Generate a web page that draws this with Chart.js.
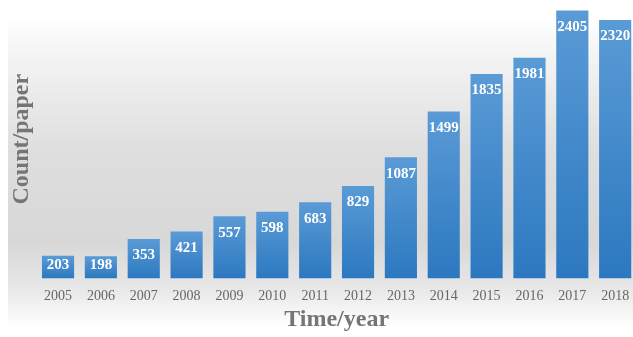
<!DOCTYPE html>
<html>
<head>
<meta charset="utf-8">
<script src="https://cdn.jsdelivr.net/npm/chart.js@4.4.0/dist/chart.umd.min.js"></script>
<style>
  html, body { margin: 0; padding: 0; background: #fff; overflow: hidden; }
  #wrap { width: 633px; height: 337px; overflow: hidden; }
</style>
</head>
<body>
<div id="wrap"><canvas id="chart" width="640" height="337"></canvas></div>
<script>
const years = ['2005', '2006', '2007', '2008', '2009', '2010', '2011',
  '2012', '2013', '2014', '2015', '2016', '2017', '2018'];
const papers = [203, 198, 353, 421, 557, 598, 683, 829, 1087, 1499, 1835, 1981, 2405, 2320];
const yMax = 2500;

const serif = '"Liberation Serif", "Times New Roman", serif';

// grey panel behind the plot, fading to white top and bottom
const panelBackground = {
  id: 'panelBackground',
  beforeDraw(chart) {
    const ctx = chart.ctx;
    ctx.save();
    ctx.fillStyle = '#ffffff';
    ctx.fillRect(0, 0, chart.width, chart.height);
    const g = ctx.createLinearGradient(0, 0, 0, chart.height);
    g.addColorStop(0, '#ffffff');
    g.addColorStop(0.05, '#ffffff');
    g.addColorStop(0.16, '#f4f4f4');
    g.addColorStop(0.45, '#dedede');
    g.addColorStop(0.72, '#d8d8d8');
    g.addColorStop(0.86, '#e8e8e8');
    g.addColorStop(0.97, '#ffffff');
    ctx.fillStyle = g;
    ctx.fillRect(8, 0, chart.width - 8, chart.height);
    ctx.restore();
  }
};

// white value labels inside the top of each bar
const barLabels = {
  id: 'barLabels',
  afterDatasetsDraw(chart) {
    const ctx = chart.ctx;
    const meta = chart.getDatasetMeta(0);
    ctx.save();
    ctx.fillStyle = '#ffffff';
    ctx.font = 'bold 15px ' + serif;
    ctx.textAlign = 'center';
    ctx.textBaseline = 'middle';
    meta.data.forEach((bar, i) => {
      const y = Math.min(bar.y + 16.5, bar.base - 13);
      ctx.fillText(String(papers[i]), bar.x, y);
    });
    ctx.restore();
  }
};

const barFill = context => {
  const chart = context.chart;
  const area = chart.chartArea;
  if (!area || context.dataIndex === undefined) return '#4a8fd0';
  const yScale = chart.scales.y;
  const top = yScale.getPixelForValue(papers[context.dataIndex]);
  const bottom = yScale.getPixelForValue(0);
  const g = chart.ctx.createLinearGradient(0, top, 0, bottom);
  g.addColorStop(0, '#5a9bd6');
  g.addColorStop(1, '#2c78c0');
  return g;
};

new Chart(document.getElementById('chart'), {
  type: 'bar',
  data: {
    labels: years,
    datasets: [{
      data: papers,
      backgroundColor: barFill,
      borderWidth: 0,
      categoryPercentage: 1,
      barPercentage: 0.75
    }]
  },
  options: {
    responsive: false,
    animation: false,
    layout: { padding: { left: 0, right: 3.4, top: 0, bottom: 0 } },
    plugins: {
      legend: { display: false },
      tooltip: { enabled: false }
    },
    scales: {
      x: {
        grid: { display: false, drawTicks: false },
        border: { display: false },
        ticks: {
          color: '#666666',
          font: { family: serif, size: 14 },
          padding: 10,
          maxRotation: 0,
          autoSkip: false
        },
        title: {
          display: true,
          text: 'Time/year',
          color: '#757575',
          font: { family: serif, size: 24, weight: 'bold' },
          padding: { top: -10, bottom: 3 }
        }
      },
      y: {
        min: 0,
        max: yMax,
        grid: { display: false, drawTicks: false },
        border: { display: false },
        ticks: { display: false },
        title: {
          display: true,
          text: 'Count/paper',
          color: '#757575',
          font: { family: serif, size: 24, weight: 'bold' },
          padding: { top: 7.2, bottom: 0.6 }
        }
      }
    }
  },
  plugins: [panelBackground, barLabels]
});
</script>
</body>
</html>
